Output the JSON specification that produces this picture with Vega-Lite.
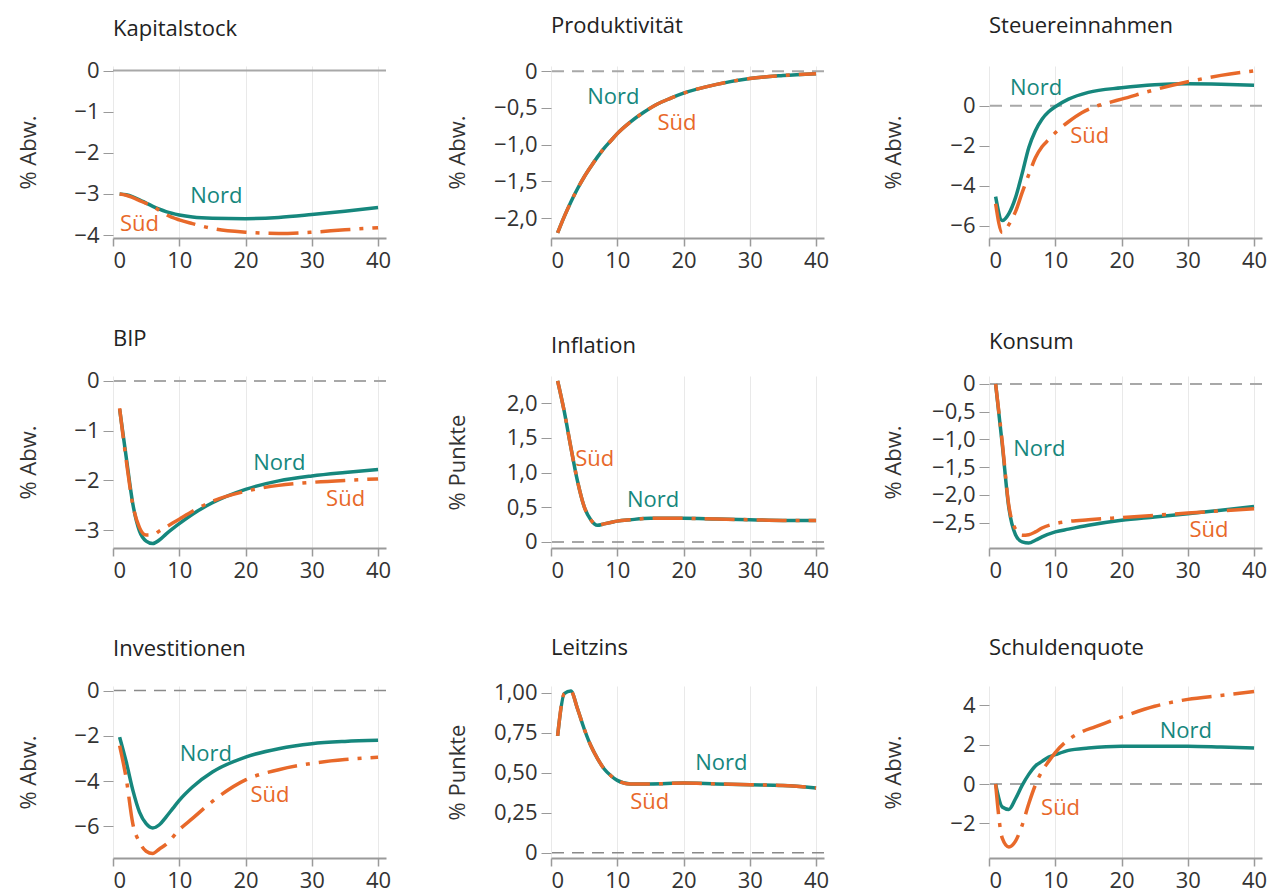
{
  "$schema": "https://vega.github.io/schema/vega-lite/v6.json",
  "background": "white",
  "padding": {"left": 16, "top": 14, "right": 5, "bottom": 40},
  "columns": 3,
  "spacing": {"row": 138, "column": 165},
  "bounds": "flush",
  "config": {
    "view": {"stroke": null},
    "font": "Open Sans",
    "axis": {"labelFont": "Open Sans", "labelFontSize": 22, "labelColor": "#333333", "titleFont": "Open Sans", "titleFontSize": 22, "titleFontWeight": "normal", "titleColor": "#333333", "gridColor": "#e9e9e9", "gridWidth": 1, "tickColor": "#9a9a9a", "labelOverlap": false},
    "axisX": {"domainColor": "#9a9a9a", "domainWidth": 2, "tickSize": 8, "tickWidth": 1.5, "labelPadding": 4},
    "axisY": {"domain": false, "tickSize": 10, "tickWidth": 1, "labelPadding": 4, "titleBaseline": "middle", "titleAlign": "center", "labelOverlap": false, "tickCount": 12},
    "title": {"font": "Open Sans", "fontSize": 22, "fontWeight": "normal", "color": "#222222", "anchor": "start", "frame": "group", "offset": 19},
    "text": {"font": "Open Sans", "fontSize": 22}
  },
  "datasets": {
    "series": [
      {"var":"Kapitalstock","region":"Nord","t":1,"value":-3.0},{"var":"Kapitalstock","region":"Nord","t":2,"value":-3.02},{"var":"Kapitalstock","region":"Nord","t":3,"value":-3.07},{"var":"Kapitalstock","region":"Nord","t":4,"value":-3.14},{"var":"Kapitalstock","region":"Nord","t":5,"value":-3.22},{"var":"Kapitalstock","region":"Nord","t":6,"value":-3.3},{"var":"Kapitalstock","region":"Nord","t":7,"value":-3.37},{"var":"Kapitalstock","region":"Nord","t":8,"value":-3.43},{"var":"Kapitalstock","region":"Nord","t":10,"value":-3.51},{"var":"Kapitalstock","region":"Nord","t":12,"value":-3.56},{"var":"Kapitalstock","region":"Nord","t":15,"value":-3.59},{"var":"Kapitalstock","region":"Nord","t":20,"value":-3.6},{"var":"Kapitalstock","region":"Nord","t":25,"value":-3.57},{"var":"Kapitalstock","region":"Nord","t":30,"value":-3.5},{"var":"Kapitalstock","region":"Nord","t":35,"value":-3.42},{"var":"Kapitalstock","region":"Nord","t":40,"value":-3.33},
      {"var":"Kapitalstock","region":"Süd","t":1,"value":-3.0},{"var":"Kapitalstock","region":"Süd","t":2,"value":-3.03},{"var":"Kapitalstock","region":"Süd","t":3,"value":-3.09},{"var":"Kapitalstock","region":"Süd","t":4,"value":-3.16},{"var":"Kapitalstock","region":"Süd","t":5,"value":-3.23},{"var":"Kapitalstock","region":"Süd","t":6,"value":-3.3},{"var":"Kapitalstock","region":"Süd","t":7,"value":-3.4},{"var":"Kapitalstock","region":"Süd","t":8,"value":-3.5},{"var":"Kapitalstock","region":"Süd","t":10,"value":-3.63},{"var":"Kapitalstock","region":"Süd","t":12,"value":-3.72},{"var":"Kapitalstock","region":"Süd","t":15,"value":-3.84},{"var":"Kapitalstock","region":"Süd","t":20,"value":-3.93},{"var":"Kapitalstock","region":"Süd","t":25,"value":-3.96},{"var":"Kapitalstock","region":"Süd","t":30,"value":-3.93},{"var":"Kapitalstock","region":"Süd","t":35,"value":-3.87},{"var":"Kapitalstock","region":"Süd","t":40,"value":-3.82},

      {"var":"Produktivität","region":"Nord","t":1,"value":-2.2},{"var":"Produktivität","region":"Nord","t":2,"value":-1.98},{"var":"Produktivität","region":"Nord","t":3,"value":-1.78},{"var":"Produktivität","region":"Nord","t":4,"value":-1.6},{"var":"Produktivität","region":"Nord","t":5,"value":-1.44},{"var":"Produktivität","region":"Nord","t":6,"value":-1.3},{"var":"Produktivität","region":"Nord","t":7,"value":-1.17},{"var":"Produktivität","region":"Nord","t":8,"value":-1.05},{"var":"Produktivität","region":"Nord","t":9,"value":-0.95},{"var":"Produktivität","region":"Nord","t":10,"value":-0.85},{"var":"Produktivität","region":"Nord","t":12,"value":-0.69},{"var":"Produktivität","region":"Nord","t":14,"value":-0.56},{"var":"Produktivität","region":"Nord","t":16,"value":-0.45},{"var":"Produktivität","region":"Nord","t":18,"value":-0.37},{"var":"Produktivität","region":"Nord","t":20,"value":-0.3},{"var":"Produktivität","region":"Nord","t":25,"value":-0.18},{"var":"Produktivität","region":"Nord","t":30,"value":-0.1},{"var":"Produktivität","region":"Nord","t":35,"value":-0.06},{"var":"Produktivität","region":"Nord","t":40,"value":-0.035},
      {"var":"Produktivität","region":"Süd","t":1,"value":-2.2},{"var":"Produktivität","region":"Süd","t":2,"value":-1.98},{"var":"Produktivität","region":"Süd","t":3,"value":-1.78},{"var":"Produktivität","region":"Süd","t":4,"value":-1.6},{"var":"Produktivität","region":"Süd","t":5,"value":-1.44},{"var":"Produktivität","region":"Süd","t":6,"value":-1.3},{"var":"Produktivität","region":"Süd","t":7,"value":-1.17},{"var":"Produktivität","region":"Süd","t":8,"value":-1.05},{"var":"Produktivität","region":"Süd","t":9,"value":-0.95},{"var":"Produktivität","region":"Süd","t":10,"value":-0.85},{"var":"Produktivität","region":"Süd","t":12,"value":-0.69},{"var":"Produktivität","region":"Süd","t":14,"value":-0.56},{"var":"Produktivität","region":"Süd","t":16,"value":-0.45},{"var":"Produktivität","region":"Süd","t":18,"value":-0.37},{"var":"Produktivität","region":"Süd","t":20,"value":-0.3},{"var":"Produktivität","region":"Süd","t":25,"value":-0.18},{"var":"Produktivität","region":"Süd","t":30,"value":-0.1},{"var":"Produktivität","region":"Süd","t":35,"value":-0.06},{"var":"Produktivität","region":"Süd","t":40,"value":-0.035},

      {"var":"Steuereinnahmen","region":"Nord","t":1,"value":-4.55},{"var":"Steuereinnahmen","region":"Nord","t":2,"value":-5.75},{"var":"Steuereinnahmen","region":"Nord","t":3,"value":-5.4},{"var":"Steuereinnahmen","region":"Nord","t":4,"value":-4.6},{"var":"Steuereinnahmen","region":"Nord","t":5,"value":-3.4},{"var":"Steuereinnahmen","region":"Nord","t":6,"value":-2.1},{"var":"Steuereinnahmen","region":"Nord","t":7,"value":-1.25},{"var":"Steuereinnahmen","region":"Nord","t":8,"value":-0.67},{"var":"Steuereinnahmen","region":"Nord","t":9,"value":-0.3},{"var":"Steuereinnahmen","region":"Nord","t":10,"value":-0.05},{"var":"Steuereinnahmen","region":"Nord","t":12,"value":0.33},{"var":"Steuereinnahmen","region":"Nord","t":15,"value":0.67},{"var":"Steuereinnahmen","region":"Nord","t":20,"value":0.9},{"var":"Steuereinnahmen","region":"Nord","t":25,"value":1.05},{"var":"Steuereinnahmen","region":"Nord","t":30,"value":1.1},{"var":"Steuereinnahmen","region":"Nord","t":35,"value":1.08},{"var":"Steuereinnahmen","region":"Nord","t":40,"value":1.03},
      {"var":"Steuereinnahmen","region":"Süd","t":1,"value":-4.9},{"var":"Steuereinnahmen","region":"Süd","t":2,"value":-6.35},{"var":"Steuereinnahmen","region":"Süd","t":3,"value":-5.95},{"var":"Steuereinnahmen","region":"Süd","t":4,"value":-5.3},{"var":"Steuereinnahmen","region":"Süd","t":5,"value":-4.35},{"var":"Steuereinnahmen","region":"Süd","t":6,"value":-3.45},{"var":"Steuereinnahmen","region":"Süd","t":7,"value":-2.6},{"var":"Steuereinnahmen","region":"Süd","t":8,"value":-2.05},{"var":"Steuereinnahmen","region":"Süd","t":9,"value":-1.7},{"var":"Steuereinnahmen","region":"Süd","t":10,"value":-1.35},{"var":"Steuereinnahmen","region":"Süd","t":12,"value":-0.8},{"var":"Steuereinnahmen","region":"Süd","t":14,"value":-0.35},{"var":"Steuereinnahmen","region":"Süd","t":16,"value":-0.05},{"var":"Steuereinnahmen","region":"Süd","t":18,"value":0.15},{"var":"Steuereinnahmen","region":"Süd","t":20,"value":0.33},{"var":"Steuereinnahmen","region":"Süd","t":25,"value":0.8},{"var":"Steuereinnahmen","region":"Süd","t":30,"value":1.2},{"var":"Steuereinnahmen","region":"Süd","t":35,"value":1.52},{"var":"Steuereinnahmen","region":"Süd","t":40,"value":1.75},

      {"var":"BIP","region":"Nord","t":1,"value":-0.57},{"var":"BIP","region":"Nord","t":2,"value":-1.54},{"var":"BIP","region":"Nord","t":3,"value":-2.48},{"var":"BIP","region":"Nord","t":4,"value":-3.02},{"var":"BIP","region":"Nord","t":5,"value":-3.22},{"var":"BIP","region":"Nord","t":6,"value":-3.27},{"var":"BIP","region":"Nord","t":7,"value":-3.2},{"var":"BIP","region":"Nord","t":8,"value":-3.08},{"var":"BIP","region":"Nord","t":10,"value":-2.87},{"var":"BIP","region":"Nord","t":12,"value":-2.68},{"var":"BIP","region":"Nord","t":15,"value":-2.45},{"var":"BIP","region":"Nord","t":20,"value":-2.18},{"var":"BIP","region":"Nord","t":25,"value":-2.01},{"var":"BIP","region":"Nord","t":30,"value":-1.91},{"var":"BIP","region":"Nord","t":35,"value":-1.84},{"var":"BIP","region":"Nord","t":40,"value":-1.78},
      {"var":"BIP","region":"Süd","t":1,"value":-0.55},{"var":"BIP","region":"Süd","t":2,"value":-1.6},{"var":"BIP","region":"Süd","t":3,"value":-2.5},{"var":"BIP","region":"Süd","t":4,"value":-2.95},{"var":"BIP","region":"Süd","t":5,"value":-3.1},{"var":"BIP","region":"Süd","t":6,"value":-3.1},{"var":"BIP","region":"Süd","t":7,"value":-3.02},{"var":"BIP","region":"Süd","t":8,"value":-2.94},{"var":"BIP","region":"Süd","t":10,"value":-2.78},{"var":"BIP","region":"Süd","t":12,"value":-2.62},{"var":"BIP","region":"Süd","t":15,"value":-2.42},{"var":"BIP","region":"Süd","t":20,"value":-2.22},{"var":"BIP","region":"Süd","t":25,"value":-2.1},{"var":"BIP","region":"Süd","t":30,"value":-2.04},{"var":"BIP","region":"Süd","t":35,"value":-2.0},{"var":"BIP","region":"Süd","t":40,"value":-1.97},

      {"var":"Inflation","region":"Nord","t":1,"value":2.32},{"var":"Inflation","region":"Nord","t":2,"value":1.88},{"var":"Inflation","region":"Nord","t":3,"value":1.36},{"var":"Inflation","region":"Nord","t":4,"value":0.875},{"var":"Inflation","region":"Nord","t":5,"value":0.51},{"var":"Inflation","region":"Nord","t":6,"value":0.32},{"var":"Inflation","region":"Nord","t":7,"value":0.24},{"var":"Inflation","region":"Nord","t":8,"value":0.26},{"var":"Inflation","region":"Nord","t":9,"value":0.28},{"var":"Inflation","region":"Nord","t":10,"value":0.3},{"var":"Inflation","region":"Nord","t":12,"value":0.32},{"var":"Inflation","region":"Nord","t":15,"value":0.34},{"var":"Inflation","region":"Nord","t":20,"value":0.34},{"var":"Inflation","region":"Nord","t":25,"value":0.33},{"var":"Inflation","region":"Nord","t":30,"value":0.32},{"var":"Inflation","region":"Nord","t":35,"value":0.31},{"var":"Inflation","region":"Nord","t":40,"value":0.31},
      {"var":"Inflation","region":"Süd","t":1,"value":2.32},{"var":"Inflation","region":"Süd","t":2,"value":1.88},{"var":"Inflation","region":"Süd","t":3,"value":1.36},{"var":"Inflation","region":"Süd","t":4,"value":0.875},{"var":"Inflation","region":"Süd","t":5,"value":0.51},{"var":"Inflation","region":"Süd","t":6,"value":0.32},{"var":"Inflation","region":"Süd","t":7,"value":0.24},{"var":"Inflation","region":"Süd","t":8,"value":0.26},{"var":"Inflation","region":"Süd","t":9,"value":0.28},{"var":"Inflation","region":"Süd","t":10,"value":0.3},{"var":"Inflation","region":"Süd","t":12,"value":0.32},{"var":"Inflation","region":"Süd","t":15,"value":0.34},{"var":"Inflation","region":"Süd","t":20,"value":0.34},{"var":"Inflation","region":"Süd","t":25,"value":0.33},{"var":"Inflation","region":"Süd","t":30,"value":0.32},{"var":"Inflation","region":"Süd","t":35,"value":0.31},{"var":"Inflation","region":"Süd","t":40,"value":0.31},

      {"var":"Konsum","region":"Nord","t":1,"value":0},{"var":"Konsum","region":"Nord","t":2,"value":-1.09},{"var":"Konsum","region":"Nord","t":3,"value":-2.24},{"var":"Konsum","region":"Nord","t":4,"value":-2.72},{"var":"Konsum","region":"Nord","t":5,"value":-2.85},{"var":"Konsum","region":"Nord","t":6,"value":-2.87},{"var":"Konsum","region":"Nord","t":7,"value":-2.82},{"var":"Konsum","region":"Nord","t":8,"value":-2.76},{"var":"Konsum","region":"Nord","t":10,"value":-2.67},{"var":"Konsum","region":"Nord","t":12,"value":-2.62},{"var":"Konsum","region":"Nord","t":15,"value":-2.55},{"var":"Konsum","region":"Nord","t":20,"value":-2.46},{"var":"Konsum","region":"Nord","t":25,"value":-2.4},{"var":"Konsum","region":"Nord","t":30,"value":-2.34},{"var":"Konsum","region":"Nord","t":35,"value":-2.28},{"var":"Konsum","region":"Nord","t":40,"value":-2.21},
      {"var":"Konsum","region":"Süd","t":1,"value":0},{"var":"Konsum","region":"Süd","t":2,"value":-1.05},{"var":"Konsum","region":"Süd","t":3,"value":-2.2},{"var":"Konsum","region":"Süd","t":4,"value":-2.62},{"var":"Konsum","region":"Süd","t":5,"value":-2.73},{"var":"Konsum","region":"Süd","t":6,"value":-2.72},{"var":"Konsum","region":"Süd","t":7,"value":-2.67},{"var":"Konsum","region":"Süd","t":8,"value":-2.6},{"var":"Konsum","region":"Süd","t":10,"value":-2.52},{"var":"Konsum","region":"Süd","t":12,"value":-2.48},{"var":"Konsum","region":"Süd","t":15,"value":-2.45},{"var":"Konsum","region":"Süd","t":20,"value":-2.41},{"var":"Konsum","region":"Süd","t":25,"value":-2.37},{"var":"Konsum","region":"Süd","t":30,"value":-2.33},{"var":"Konsum","region":"Süd","t":35,"value":-2.29},{"var":"Konsum","region":"Süd","t":40,"value":-2.25},

      {"var":"Investitionen","region":"Nord","t":1,"value":-2.06},{"var":"Investitionen","region":"Nord","t":2,"value":-3.16},{"var":"Investitionen","region":"Nord","t":3,"value":-4.41},{"var":"Investitionen","region":"Nord","t":4,"value":-5.37},{"var":"Investitionen","region":"Nord","t":5,"value":-5.88},{"var":"Investitionen","region":"Nord","t":6,"value":-6.07},{"var":"Investitionen","region":"Nord","t":7,"value":-5.93},{"var":"Investitionen","region":"Nord","t":8,"value":-5.59},{"var":"Investitionen","region":"Nord","t":9,"value":-5.22},{"var":"Investitionen","region":"Nord","t":10,"value":-4.85},{"var":"Investitionen","region":"Nord","t":12,"value":-4.26},{"var":"Investitionen","region":"Nord","t":15,"value":-3.6},{"var":"Investitionen","region":"Nord","t":20,"value":-2.94},{"var":"Investitionen","region":"Nord","t":25,"value":-2.57},{"var":"Investitionen","region":"Nord","t":30,"value":-2.35},{"var":"Investitionen","region":"Nord","t":35,"value":-2.25},{"var":"Investitionen","region":"Nord","t":40,"value":-2.2},
      {"var":"Investitionen","region":"Süd","t":1,"value":-2.43},{"var":"Investitionen","region":"Süd","t":2,"value":-3.9},{"var":"Investitionen","region":"Süd","t":3,"value":-5.9},{"var":"Investitionen","region":"Süd","t":4,"value":-6.7},{"var":"Investitionen","region":"Süd","t":5,"value":-7.1},{"var":"Investitionen","region":"Süd","t":6,"value":-7.2},{"var":"Investitionen","region":"Süd","t":7,"value":-7.0},{"var":"Investitionen","region":"Süd","t":8,"value":-6.8},{"var":"Investitionen","region":"Süd","t":10,"value":-6.15},{"var":"Investitionen","region":"Süd","t":12,"value":-5.65},{"var":"Investitionen","region":"Süd","t":15,"value":-4.9},{"var":"Investitionen","region":"Süd","t":20,"value":-3.95},{"var":"Investitionen","region":"Süd","t":25,"value":-3.5},{"var":"Investitionen","region":"Süd","t":30,"value":-3.22},{"var":"Investitionen","region":"Süd","t":35,"value":-3.05},{"var":"Investitionen","region":"Süd","t":40,"value":-2.95},

      {"var":"Leitzins","region":"Nord","t":1,"value":0.73},{"var":"Leitzins","region":"Nord","t":2,"value":0.994},{"var":"Leitzins","region":"Nord","t":3,"value":1.01},{"var":"Leitzins","region":"Nord","t":4,"value":0.9},{"var":"Leitzins","region":"Nord","t":5,"value":0.775},{"var":"Leitzins","region":"Nord","t":6,"value":0.67},{"var":"Leitzins","region":"Nord","t":7,"value":0.59},{"var":"Leitzins","region":"Nord","t":8,"value":0.525},{"var":"Leitzins","region":"Nord","t":9,"value":0.483},{"var":"Leitzins","region":"Nord","t":10,"value":0.452},{"var":"Leitzins","region":"Nord","t":12,"value":0.43},{"var":"Leitzins","region":"Nord","t":15,"value":0.43},{"var":"Leitzins","region":"Nord","t":20,"value":0.435},{"var":"Leitzins","region":"Nord","t":25,"value":0.43},{"var":"Leitzins","region":"Nord","t":30,"value":0.425},{"var":"Leitzins","region":"Nord","t":35,"value":0.42},{"var":"Leitzins","region":"Nord","t":40,"value":0.405},
      {"var":"Leitzins","region":"Süd","t":1,"value":0.73},{"var":"Leitzins","region":"Süd","t":2,"value":0.994},{"var":"Leitzins","region":"Süd","t":3,"value":1.01},{"var":"Leitzins","region":"Süd","t":4,"value":0.9},{"var":"Leitzins","region":"Süd","t":5,"value":0.775},{"var":"Leitzins","region":"Süd","t":6,"value":0.67},{"var":"Leitzins","region":"Süd","t":7,"value":0.59},{"var":"Leitzins","region":"Süd","t":8,"value":0.525},{"var":"Leitzins","region":"Süd","t":9,"value":0.483},{"var":"Leitzins","region":"Süd","t":10,"value":0.452},{"var":"Leitzins","region":"Süd","t":12,"value":0.43},{"var":"Leitzins","region":"Süd","t":15,"value":0.43},{"var":"Leitzins","region":"Süd","t":20,"value":0.435},{"var":"Leitzins","region":"Süd","t":25,"value":0.43},{"var":"Leitzins","region":"Süd","t":30,"value":0.425},{"var":"Leitzins","region":"Süd","t":35,"value":0.42},{"var":"Leitzins","region":"Süd","t":40,"value":0.405},

      {"var":"Schuldenquote","region":"Nord","t":1,"value":0},{"var":"Schuldenquote","region":"Nord","t":2,"value":-1.17},{"var":"Schuldenquote","region":"Nord","t":3,"value":-1.29},{"var":"Schuldenquote","region":"Nord","t":4,"value":-0.75},{"var":"Schuldenquote","region":"Nord","t":5,"value":-0.07},{"var":"Schuldenquote","region":"Nord","t":6,"value":0.49},{"var":"Schuldenquote","region":"Nord","t":7,"value":0.92},{"var":"Schuldenquote","region":"Nord","t":8,"value":1.15},{"var":"Schuldenquote","region":"Nord","t":9,"value":1.37},{"var":"Schuldenquote","region":"Nord","t":10,"value":1.49},{"var":"Schuldenquote","region":"Nord","t":12,"value":1.71},{"var":"Schuldenquote","region":"Nord","t":15,"value":1.83},{"var":"Schuldenquote","region":"Nord","t":20,"value":1.92},{"var":"Schuldenquote","region":"Nord","t":25,"value":1.92},{"var":"Schuldenquote","region":"Nord","t":30,"value":1.92},{"var":"Schuldenquote","region":"Nord","t":35,"value":1.88},{"var":"Schuldenquote","region":"Nord","t":40,"value":1.83},
      {"var":"Schuldenquote","region":"Süd","t":1,"value":0},{"var":"Schuldenquote","region":"Süd","t":2,"value":-2.75},{"var":"Schuldenquote","region":"Süd","t":3,"value":-3.2},{"var":"Schuldenquote","region":"Süd","t":4,"value":-2.9},{"var":"Schuldenquote","region":"Süd","t":5,"value":-2.1},{"var":"Schuldenquote","region":"Süd","t":6,"value":-1.0},{"var":"Schuldenquote","region":"Süd","t":7,"value":-0.05},{"var":"Schuldenquote","region":"Süd","t":8,"value":0.65},{"var":"Schuldenquote","region":"Süd","t":9,"value":1.15},{"var":"Schuldenquote","region":"Süd","t":10,"value":1.6},{"var":"Schuldenquote","region":"Süd","t":12,"value":2.25},{"var":"Schuldenquote","region":"Süd","t":14,"value":2.65},{"var":"Schuldenquote","region":"Süd","t":16,"value":2.9},{"var":"Schuldenquote","region":"Süd","t":20,"value":3.4},{"var":"Schuldenquote","region":"Süd","t":25,"value":3.95},{"var":"Schuldenquote","region":"Süd","t":30,"value":4.3},{"var":"Schuldenquote","region":"Süd","t":35,"value":4.5},{"var":"Schuldenquote","region":"Süd","t":40,"value":4.7}
    ],
    "labels": [
      {"var":"Kapitalstock","region":"Nord","t":15.6,"value":-3.05},{"var":"Kapitalstock","region":"Süd","t":4.0,"value":-3.73},
      {"var":"Produktivität","region":"Nord","t":9.4,"value":-0.355},{"var":"Produktivität","region":"Süd","t":19.0,"value":-0.7},
      {"var":"Steuereinnahmen","region":"Nord","t":7.1,"value":0.88},{"var":"Steuereinnahmen","region":"Süd","t":15.2,"value":-1.5},
      {"var":"BIP","region":"Nord","t":25.1,"value":-1.66},{"var":"BIP","region":"Süd","t":35.1,"value":-2.38},
      {"var":"Inflation","region":"Süd","t":6.6,"value":1.19},{"var":"Inflation","region":"Nord","t":15.4,"value":0.61},
      {"var":"Konsum","region":"Nord","t":7.6,"value":-1.18},{"var":"Konsum","region":"Süd","t":33.2,"value":-2.64},
      {"var":"Investitionen","region":"Nord","t":14.0,"value":-2.79},{"var":"Investitionen","region":"Süd","t":23.7,"value":-4.63},
      {"var":"Leitzins","region":"Nord","t":25.7,"value":0.5625},{"var":"Leitzins","region":"Süd","t":14.9,"value":0.32},
      {"var":"Schuldenquote","region":"Nord","t":29.7,"value":2.68},{"var":"Schuldenquote","region":"Süd","t":10.8,"value":-1.22}
    ]
  },
  "concat": [
    {
      "width": 273, "height": 172, "title": {"text": "Kapitalstock", "offset": 19},
      "layer": [
        {"data": {"values": [{}]}, "mark": {"type": "rule", "color": "#a8a8a8", "strokeWidth": 2}, "encoding": {"y": {"datum": 0, "type": "quantitative"}}},
        {"data": {"name": "series"}, "transform": [{"filter": "datum.var === 'Kapitalstock' && datum.region === 'Nord'"}], "mark": {"type": "line", "strokeWidth": 3.5, "interpolate": "monotone"},
         "encoding": {"x": {"field": "t", "type": "quantitative", "scale": {"domain": [0, 41.2], "nice": false}, "axis": {"values": [0, 10, 20, 30, 40], "title": null}},
                      "y": {"field": "value", "type": "quantitative", "scale": {"domain": [-4.07, 0.11], "nice": false, "zero": false}, "axis": {"values": [0, -1, -2, -3, -4], "title": "% Abw.", "format": "d", "titleX": -85, "tickCount": 12}},
                      "color": {"field": "region", "type": "nominal", "scale": {"domain": ["Nord", "Süd"], "range": ["#16877d", "#e8692a"]}, "legend": null}}},
        {"data": {"name": "series"}, "transform": [{"filter": "datum.var === 'Kapitalstock' && datum.region === 'Süd'"}], "mark": {"type": "line", "strokeWidth": 3.5, "interpolate": "monotone", "strokeDash": [30, 9, 4, 9]},
         "encoding": {"x": {"field": "t", "type": "quantitative"}, "y": {"field": "value", "type": "quantitative"}, "color": {"field": "region", "type": "nominal", "legend": null}}},
        {"data": {"name": "labels"}, "transform": [{"filter": "datum.var === 'Kapitalstock'"}], "mark": {"type": "text", "align": "center", "baseline": "middle"},
         "encoding": {"x": {"field": "t", "type": "quantitative"}, "y": {"field": "value", "type": "quantitative"}, "text": {"field": "region"}, "color": {"field": "region", "type": "nominal", "legend": null}}}
      ]
    },
    {
      "width": 273, "height": 172, "title": {"text": "Produktivität", "offset": 22},
      "layer": [
        {"data": {"values": [{}]}, "mark": {"type": "rule", "color": "#a8a8a8", "strokeWidth": 2, "strokeDash": [12, 8]}, "encoding": {"y": {"datum": 0, "type": "quantitative"}}},
        {"data": {"name": "series"}, "transform": [{"filter": "datum.var === 'Produktivität' && datum.region === 'Nord'"}], "mark": {"type": "line", "strokeWidth": 3.5, "interpolate": "monotone"},
         "encoding": {"x": {"field": "t", "type": "quantitative", "scale": {"domain": [0, 41.2], "nice": false}, "axis": {"values": [0, 10, 20, 30, 40], "title": null}},
                      "y": {"field": "value", "type": "quantitative", "scale": {"domain": [-2.27, 0.07], "nice": false, "zero": false}, "axis": {"values": [0, -0.5, -1, -1.5, -2], "title": "% Abw.", "titleX": -94, "tickCount": 12, "labelExpr": "datum.value == 0 ? '0' : replace(format(datum.value, '.1f'), '.', ',')"}},
                      "color": {"field": "region", "type": "nominal", "scale": {"domain": ["Nord", "Süd"], "range": ["#16877d", "#e8692a"]}, "legend": null}}},
        {"data": {"name": "series"}, "transform": [{"filter": "datum.var === 'Produktivität' && datum.region === 'Süd'"}], "mark": {"type": "line", "strokeWidth": 3.5, "interpolate": "monotone", "strokeDash": [30, 9, 4, 9]},
         "encoding": {"x": {"field": "t", "type": "quantitative"}, "y": {"field": "value", "type": "quantitative"}, "color": {"field": "region", "type": "nominal", "legend": null}}},
        {"data": {"name": "labels"}, "transform": [{"filter": "datum.var === 'Produktivität'"}], "mark": {"type": "text", "align": "center", "baseline": "middle"},
         "encoding": {"x": {"field": "t", "type": "quantitative"}, "y": {"field": "value", "type": "quantitative"}, "text": {"field": "region"}, "color": {"field": "region", "type": "nominal", "legend": null}}}
      ]
    },
    {
      "width": 273, "height": 172, "title": {"text": "Steuereinnahmen", "offset": 26},
      "layer": [
        {"data": {"values": [{}]}, "mark": {"type": "rule", "color": "#a8a8a8", "strokeWidth": 2, "strokeDash": [12, 8]}, "encoding": {"y": {"datum": 0, "type": "quantitative"}}},
        {"data": {"name": "series"}, "transform": [{"filter": "datum.var === 'Steuereinnahmen' && datum.region === 'Nord'"}], "mark": {"type": "line", "strokeWidth": 3.5, "interpolate": "monotone"},
         "encoding": {"x": {"field": "t", "type": "quantitative", "scale": {"domain": [0, 41.2], "nice": false}, "axis": {"values": [0, 10, 20, 30, 40], "title": null}},
                      "y": {"field": "value", "type": "quantitative", "scale": {"domain": [-6.62, 1.99], "nice": false, "zero": false}, "axis": {"values": [0, -2, -4, -6], "title": "% Abw.", "format": "d", "titleX": -96, "tickCount": 12}},
                      "color": {"field": "region", "type": "nominal", "scale": {"domain": ["Nord", "Süd"], "range": ["#16877d", "#e8692a"]}, "legend": null}}},
        {"data": {"name": "series"}, "transform": [{"filter": "datum.var === 'Steuereinnahmen' && datum.region === 'Süd'"}], "mark": {"type": "line", "strokeWidth": 3.5, "interpolate": "monotone", "strokeDash": [30, 9, 4, 9]},
         "encoding": {"x": {"field": "t", "type": "quantitative"}, "y": {"field": "value", "type": "quantitative"}, "color": {"field": "region", "type": "nominal", "legend": null}}},
        {"data": {"name": "labels"}, "transform": [{"filter": "datum.var === 'Steuereinnahmen'"}], "mark": {"type": "text", "align": "center", "baseline": "middle"},
         "encoding": {"x": {"field": "t", "type": "quantitative"}, "y": {"field": "value", "type": "quantitative"}, "text": {"field": "region"}, "color": {"field": "region", "type": "nominal", "legend": null}}}
      ]
    },
    {
      "width": 273, "height": 172, "title": {"text": "BIP", "offset": 19},
      "layer": [
        {"data": {"values": [{}]}, "mark": {"type": "rule", "color": "#a8a8a8", "strokeWidth": 2, "strokeDash": [12, 8]}, "encoding": {"y": {"datum": 0, "type": "quantitative"}}},
        {"data": {"name": "series"}, "transform": [{"filter": "datum.var === 'BIP' && datum.region === 'Nord'"}], "mark": {"type": "line", "strokeWidth": 3.5, "interpolate": "monotone"},
         "encoding": {"x": {"field": "t", "type": "quantitative", "scale": {"domain": [0, 41.2], "nice": false}, "axis": {"values": [0, 10, 20, 30, 40], "title": null}},
                      "y": {"field": "value", "type": "quantitative", "scale": {"domain": [-3.36, 0.1], "nice": false, "zero": false}, "axis": {"values": [0, -1, -2, -3], "title": "% Abw.", "format": "d", "titleX": -85, "tickCount": 12}},
                      "color": {"field": "region", "type": "nominal", "scale": {"domain": ["Nord", "Süd"], "range": ["#16877d", "#e8692a"]}, "legend": null}}},
        {"data": {"name": "series"}, "transform": [{"filter": "datum.var === 'BIP' && datum.region === 'Süd'"}], "mark": {"type": "line", "strokeWidth": 3.5, "interpolate": "monotone", "strokeDash": [30, 9, 4, 9]},
         "encoding": {"x": {"field": "t", "type": "quantitative"}, "y": {"field": "value", "type": "quantitative"}, "color": {"field": "region", "type": "nominal", "legend": null}}},
        {"data": {"name": "labels"}, "transform": [{"filter": "datum.var === 'BIP'"}], "mark": {"type": "text", "align": "center", "baseline": "middle"},
         "encoding": {"x": {"field": "t", "type": "quantitative"}, "y": {"field": "value", "type": "quantitative"}, "text": {"field": "region"}, "color": {"field": "region", "type": "nominal", "legend": null}}}
      ]
    },
    {
      "width": 273, "height": 172, "title": {"text": "Inflation", "offset": 16},
      "layer": [
        {"data": {"values": [{}]}, "mark": {"type": "rule", "color": "#8a8a8a", "strokeWidth": 1.5, "strokeDash": [12, 8]}, "encoding": {"y": {"datum": 0, "type": "quantitative"}}},
        {"data": {"name": "series"}, "transform": [{"filter": "datum.var === 'Inflation' && datum.region === 'Nord'"}], "mark": {"type": "line", "strokeWidth": 3.5, "interpolate": "monotone"},
         "encoding": {"x": {"field": "t", "type": "quantitative", "scale": {"domain": [0, 41.2], "nice": false}, "axis": {"values": [0, 10, 20, 30, 40], "title": null}},
                      "y": {"field": "value", "type": "quantitative", "scale": {"domain": [-0.087, 2.39], "nice": false, "zero": false}, "axis": {"values": [0, 0.5, 1, 1.5, 2], "title": "% Punkte", "titleX": -94, "tickCount": 12, "labelExpr": "datum.value == 0 ? '0' : replace(format(datum.value, '.1f'), '.', ',')"}},
                      "color": {"field": "region", "type": "nominal", "scale": {"domain": ["Nord", "Süd"], "range": ["#16877d", "#e8692a"]}, "legend": null}}},
        {"data": {"name": "series"}, "transform": [{"filter": "datum.var === 'Inflation' && datum.region === 'Süd'"}], "mark": {"type": "line", "strokeWidth": 3.5, "interpolate": "monotone", "strokeDash": [30, 9, 4, 9]},
         "encoding": {"x": {"field": "t", "type": "quantitative"}, "y": {"field": "value", "type": "quantitative"}, "color": {"field": "region", "type": "nominal", "legend": null}}},
        {"data": {"name": "labels"}, "transform": [{"filter": "datum.var === 'Inflation'"}], "mark": {"type": "text", "align": "center", "baseline": "middle"},
         "encoding": {"x": {"field": "t", "type": "quantitative"}, "y": {"field": "value", "type": "quantitative"}, "text": {"field": "region"}, "color": {"field": "region", "type": "nominal", "legend": null}}}
      ]
    },
    {
      "width": 273, "height": 172, "title": {"text": "Konsum", "offset": 19},
      "layer": [
        {"data": {"values": [{}]}, "mark": {"type": "rule", "color": "#a8a8a8", "strokeWidth": 2, "strokeDash": [12, 8]}, "encoding": {"y": {"datum": 0, "type": "quantitative"}}},
        {"data": {"name": "series"}, "transform": [{"filter": "datum.var === 'Konsum' && datum.region === 'Nord'"}], "mark": {"type": "line", "strokeWidth": 3.5, "interpolate": "monotone"},
         "encoding": {"x": {"field": "t", "type": "quantitative", "scale": {"domain": [0, 41.2], "nice": false}, "axis": {"values": [0, 10, 20, 30, 40], "title": null}},
                      "y": {"field": "value", "type": "quantitative", "scale": {"domain": [-2.96, 0.144], "nice": false, "zero": false}, "axis": {"values": [0, -0.5, -1, -1.5, -2, -2.5], "title": "% Abw.", "titleX": -96, "tickCount": 12, "labelExpr": "datum.value == 0 ? '0' : replace(format(datum.value, '.1f'), '.', ',')"}},
                      "color": {"field": "region", "type": "nominal", "scale": {"domain": ["Nord", "Süd"], "range": ["#16877d", "#e8692a"]}, "legend": null}}},
        {"data": {"name": "series"}, "transform": [{"filter": "datum.var === 'Konsum' && datum.region === 'Süd'"}], "mark": {"type": "line", "strokeWidth": 3.5, "interpolate": "monotone", "strokeDash": [30, 9, 4, 9]},
         "encoding": {"x": {"field": "t", "type": "quantitative"}, "y": {"field": "value", "type": "quantitative"}, "color": {"field": "region", "type": "nominal", "legend": null}}},
        {"data": {"name": "labels"}, "transform": [{"filter": "datum.var === 'Konsum'"}], "mark": {"type": "text", "align": "center", "baseline": "middle"},
         "encoding": {"x": {"field": "t", "type": "quantitative"}, "y": {"field": "value", "type": "quantitative"}, "text": {"field": "region"}, "color": {"field": "region", "type": "nominal", "legend": null}}}
      ]
    },
    {
      "width": 273, "height": 172, "title": {"text": "Investitionen", "offset": 19},
      "layer": [
        {"data": {"values": [{}]}, "mark": {"type": "rule", "color": "#8a8a8a", "strokeWidth": 1.5, "strokeDash": [12, 8]}, "encoding": {"y": {"datum": 0, "type": "quantitative"}}},
        {"data": {"name": "series"}, "transform": [{"filter": "datum.var === 'Investitionen' && datum.region === 'Nord'"}], "mark": {"type": "line", "strokeWidth": 3.5, "interpolate": "monotone"},
         "encoding": {"x": {"field": "t", "type": "quantitative", "scale": {"domain": [0, 41.2], "nice": false}, "axis": {"values": [0, 10, 20, 30, 40], "title": null}},
                      "y": {"field": "value", "type": "quantitative", "scale": {"domain": [-7.4, 0.2], "nice": false, "zero": false}, "axis": {"values": [0, -2, -4, -6], "title": "% Abw.", "format": "d", "titleX": -85, "tickCount": 12}},
                      "color": {"field": "region", "type": "nominal", "scale": {"domain": ["Nord", "Süd"], "range": ["#16877d", "#e8692a"]}, "legend": null}}},
        {"data": {"name": "series"}, "transform": [{"filter": "datum.var === 'Investitionen' && datum.region === 'Süd'"}], "mark": {"type": "line", "strokeWidth": 3.5, "interpolate": "monotone", "strokeDash": [30, 9, 4, 9]},
         "encoding": {"x": {"field": "t", "type": "quantitative"}, "y": {"field": "value", "type": "quantitative"}, "color": {"field": "region", "type": "nominal", "legend": null}}},
        {"data": {"name": "labels"}, "transform": [{"filter": "datum.var === 'Investitionen'"}], "mark": {"type": "text", "align": "center", "baseline": "middle"},
         "encoding": {"x": {"field": "t", "type": "quantitative"}, "y": {"field": "value", "type": "quantitative"}, "text": {"field": "region"}, "color": {"field": "region", "type": "nominal", "legend": null}}}
      ]
    },
    {
      "width": 273, "height": 172, "title": {"text": "Leitzins", "offset": 22},
      "layer": [
        {"data": {"values": [{}]}, "mark": {"type": "rule", "color": "#8a8a8a", "strokeWidth": 1.5, "strokeDash": [12, 8]}, "encoding": {"y": {"datum": 0, "type": "quantitative"}}},
        {"data": {"name": "series"}, "transform": [{"filter": "datum.var === 'Leitzins' && datum.region === 'Nord'"}], "mark": {"type": "line", "strokeWidth": 3.5, "interpolate": "monotone"},
         "encoding": {"x": {"field": "t", "type": "quantitative", "scale": {"domain": [0, 41.2], "nice": false}, "axis": {"values": [0, 10, 20, 30, 40], "title": null}},
                      "y": {"field": "value", "type": "quantitative", "scale": {"domain": [-0.033, 1.042], "nice": false, "zero": false}, "axis": {"values": [0, 0.25, 0.5, 0.75, 1], "title": "% Punkte", "titleX": -94, "tickCount": 12, "labelExpr": "datum.value == 0 ? '0' : replace(format(datum.value, '.2f'), '.', ',')"}},
                      "color": {"field": "region", "type": "nominal", "scale": {"domain": ["Nord", "Süd"], "range": ["#16877d", "#e8692a"]}, "legend": null}}},
        {"data": {"name": "series"}, "transform": [{"filter": "datum.var === 'Leitzins' && datum.region === 'Süd'"}], "mark": {"type": "line", "strokeWidth": 3.5, "interpolate": "monotone", "strokeDash": [30, 9, 4, 9]},
         "encoding": {"x": {"field": "t", "type": "quantitative"}, "y": {"field": "value", "type": "quantitative"}, "color": {"field": "region", "type": "nominal", "legend": null}}},
        {"data": {"name": "labels"}, "transform": [{"filter": "datum.var === 'Leitzins'"}], "mark": {"type": "text", "align": "center", "baseline": "middle"},
         "encoding": {"x": {"field": "t", "type": "quantitative"}, "y": {"field": "value", "type": "quantitative"}, "text": {"field": "region"}, "color": {"field": "region", "type": "nominal", "legend": null}}}
      ]
    },
    {
      "width": 273, "height": 172, "title": {"text": "Schuldenquote", "offset": 25},
      "layer": [
        {"data": {"values": [{}]}, "mark": {"type": "rule", "color": "#8a8a8a", "strokeWidth": 1.5, "strokeDash": [12, 8]}, "encoding": {"y": {"datum": 0, "type": "quantitative"}}},
        {"data": {"name": "series"}, "transform": [{"filter": "datum.var === 'Schuldenquote' && datum.region === 'Nord'"}], "mark": {"type": "line", "strokeWidth": 3.5, "interpolate": "monotone"},
         "encoding": {"x": {"field": "t", "type": "quantitative", "scale": {"domain": [0, 41.2], "nice": false}, "axis": {"values": [0, 10, 20, 30, 40], "title": null}},
                      "y": {"field": "value", "type": "quantitative", "scale": {"domain": [-3.76, 4.98], "nice": false, "zero": false}, "axis": {"values": [-2, 0, 2, 4], "title": "% Abw.", "format": "d", "titleX": -96, "tickCount": 12}},
                      "color": {"field": "region", "type": "nominal", "scale": {"domain": ["Nord", "Süd"], "range": ["#16877d", "#e8692a"]}, "legend": null}}},
        {"data": {"name": "series"}, "transform": [{"filter": "datum.var === 'Schuldenquote' && datum.region === 'Süd'"}], "mark": {"type": "line", "strokeWidth": 3.5, "interpolate": "monotone", "strokeDash": [30, 9, 4, 9]},
         "encoding": {"x": {"field": "t", "type": "quantitative"}, "y": {"field": "value", "type": "quantitative"}, "color": {"field": "region", "type": "nominal", "legend": null}}},
        {"data": {"name": "labels"}, "transform": [{"filter": "datum.var === 'Schuldenquote'"}], "mark": {"type": "text", "align": "center", "baseline": "middle"},
         "encoding": {"x": {"field": "t", "type": "quantitative"}, "y": {"field": "value", "type": "quantitative"}, "text": {"field": "region"}, "color": {"field": "region", "type": "nominal", "legend": null}}}
      ]
    }
  ]
}
